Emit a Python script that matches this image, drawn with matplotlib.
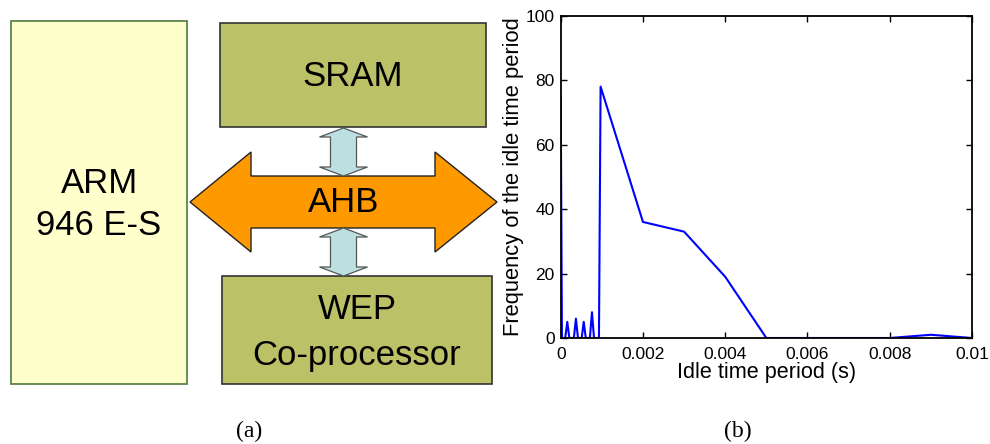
import matplotlib
matplotlib.use("Agg")
import matplotlib.pyplot as plt
from matplotlib.patches import Rectangle, Polygon

# ---- data ----
idle_time_s = [0, 0.00003, 0.00011, 0.00016, 0.00021, 0.00032, 0.00037, 0.00042,
               0.00051, 0.00056, 0.00061, 0.00071, 0.00076, 0.00081, 0.00093,
               0.00097, 0.002, 0.003, 0.004, 0.005, 0.006, 0.007, 0.008, 0.009, 0.01]
frequency = [75, 0, 0, 5, 0, 0, 6, 0,
             0, 5, 0, 0, 8, 0, 0,
             78, 36, 33, 19, 0, 0, 0, 0, 1, 0]
x_ticks = [0, 0.002, 0.004, 0.006, 0.008, 0.01]
x_tick_labels = ["0", "0.002", "0.004", "0.006", "0.008", "0.01"]
y_ticks = [0, 20, 40, 60, 80, 100]

W, H = 990, 444
fig = plt.figure(figsize=(W / 100, H / 100), dpi=100)
SANS = ["Liberation Sans", "DejaVu Sans"]
SERIF = ["Liberation Serif", "DejaVu Serif"]

# ---- block diagram (pixel coordinates) ----
bg = fig.add_axes([0, 0, 1, 1])
bg.set_xlim(0, W)
bg.set_ylim(H, 0)
bg.axis("off")

bg.add_patch(Rectangle((11, 21), 176, 363, facecolor="#FFFFCC", edgecolor="#4E7A3E", lw=1.2))
bg.add_patch(Rectangle((220, 23), 266, 104, facecolor="#BBC166", edgecolor="#333333", lw=1.2))
bg.add_patch(Rectangle((222, 276), 270, 108, facecolor="#BBC166", edgecolor="#333333", lw=1.2))

ahb = [(190, 202), (251, 152), (251, 176), (435, 176), (435, 152), (497, 202),
       (435, 252), (435, 228), (251, 228), (251, 252)]
bg.add_patch(Polygon(ahb, closed=True, facecolor="#FF9900", edgecolor="#222222", lw=1.0, zorder=2))

def varrow(cx, ytop, ybot, hw=24, sw=13, hh=9):
    pts = [(cx, ytop), (cx + hw, ytop + hh), (cx + sw, ytop + hh), (cx + sw, ybot - hh),
           (cx + hw, ybot - hh), (cx, ybot), (cx - hw, ybot - hh), (cx - sw, ybot - hh),
           (cx - sw, ytop + hh), (cx - hw, ytop + hh)]
    bg.add_patch(Polygon(pts, closed=True, facecolor="#BCE0E2", edgecolor="#555555", lw=0.9, zorder=3))

varrow(343.5, 128, 176)
varrow(343.5, 228, 276)

FS = 25
bg.text(353, 77, "SRAM", ha="center", va="center", fontsize=FS, family=SANS)
bg.text(100, 183, "ARM", ha="center", va="center", fontsize=FS, family=SANS)
bg.text(99, 225, "946 E-S", ha="center", va="center", fontsize=FS, family=SANS)
bg.text(344, 202, "AHB", ha="center", va="center", fontsize=FS, family=SANS, zorder=4)
bg.text(357, 309, "WEP", ha="center", va="center", fontsize=FS, family=SANS)
bg.text(357, 355, "Co-processor", ha="center", va="center", fontsize=FS, family=SANS)
bg.text(249, 431, "(a)", ha="center", va="center", fontsize=17, family=SERIF)
bg.text(738, 431, "(b)", ha="center", va="center", fontsize=17, family=SERIF)

# ---- line chart ----
left, right, top, bottom = 560.7, 972, 15.7, 338
ax = fig.add_axes([left / W, 1 - bottom / H, (right - left) / W, (bottom - top) / H])
ax.plot(idle_time_s, frequency, color="#0000FF", lw=1.5)
ax.set_xlim(0, 0.01)
ax.set_ylim(0, 100)
ax.set_xticks(x_ticks)
ax.set_xticklabels(x_tick_labels)
ax.set_yticks(y_ticks)
ax.tick_params(direction="in", top=True, right=True, length=4, width=1, labelsize=12.5)
ax.tick_params(axis="x", pad=6.3)
ax.tick_params(axis="y", pad=4.2)
for lab in ax.get_xticklabels() + ax.get_yticklabels():
    lab.set_family(SANS)
for s in ax.spines.values():
    s.set_linewidth(1.3)
ax.set_xlabel("Idle time period (s)", fontsize=15.6, family=SANS, labelpad=0)
ax.set_ylabel("Frequency of the idle time period", fontsize=15.8, family=SANS, labelpad=1)

fig.savefig("out.png", dpi=100)
